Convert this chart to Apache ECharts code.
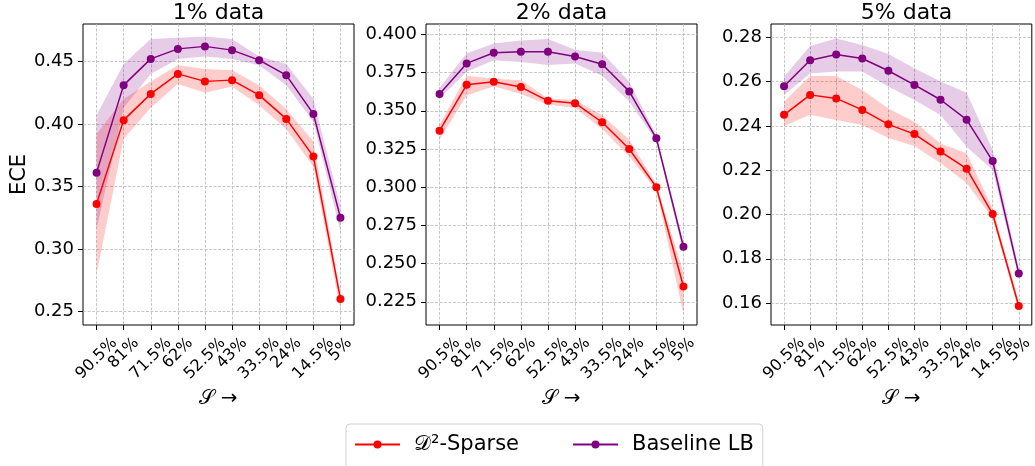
<!DOCTYPE html>
<html lang="en">
  <head>
    <meta charset="utf-8" />
    <title>ECE vs sparsity</title>
    <script src="https://cdn.jsdelivr.net/npm/echarts@6/dist/echarts.min.js"></script>
    <style>
      html, body { margin: 0; padding: 0; background: #fff; }
      #chart { width: 1035px; height: 466px; }
    </style>
  </head>
  <body>
    <div id="chart"></div>
    <script>
      // sparsity levels on the x axis
      var cats = ['90.5%', '81%', '71.5%', '62%', '52.5%', '43%', '33.5%', '24%', '14.5%', '5%']

      // 1% data
      var sparse1 = [0.336, 0.403, 0.424, 0.440, 0.434, 0.435, 0.423, 0.404, 0.374, 0.260]
      var sparse1Lo = [0.280, 0.388, 0.413, 0.432, 0.425, 0.430, 0.415, 0.396, 0.366, 0.251]
      var sparse1Hi = [0.392, 0.420, 0.434, 0.447, 0.444, 0.443, 0.431, 0.412, 0.386, 0.264]
      var base1 = [0.361, 0.431, 0.452, 0.460, 0.462, 0.459, 0.451, 0.439, 0.408, 0.325]
      var base1Lo = [0.316, 0.413, 0.440, 0.452, 0.454, 0.452, 0.447, 0.431, 0.402, 0.314]
      var base1Hi = [0.407, 0.448, 0.468, 0.469, 0.470, 0.468, 0.454, 0.448, 0.420, 0.334]

      // 2% data
      var sparse2 = [0.337, 0.367, 0.369, 0.3655, 0.3565, 0.355, 0.3425, 0.325, 0.300, 0.235]
      var sparse2Lo = [0.331, 0.360, 0.366, 0.361, 0.354, 0.352, 0.338, 0.320, 0.298, 0.217]
      var sparse2Hi = [0.341, 0.373, 0.371, 0.370, 0.358, 0.357, 0.347, 0.331, 0.302, 0.244]
      var base2 = [0.361, 0.381, 0.388, 0.3887, 0.3887, 0.3855, 0.3805, 0.3627, 0.332, 0.261]
      var base2Lo = [0.358, 0.3755, 0.383, 0.382, 0.380, 0.381, 0.373, 0.356, 0.330, 0.257]
      var base2Hi = [0.365, 0.3875, 0.394, 0.396, 0.397, 0.390, 0.388, 0.369, 0.334, 0.264]

      // 5% data
      var sparse3 = [0.245, 0.254, 0.2524, 0.2472, 0.2407, 0.2363, 0.2284, 0.2207, 0.2002, 0.1587]
      var sparse3Lo = [0.240, 0.245, 0.2427, 0.2404, 0.2345, 0.2309, 0.2231, 0.2142, 0.1982, 0.1568]
      var sparse3Hi = [0.2509, 0.2625, 0.2625, 0.2562, 0.2479, 0.2419, 0.2321, 0.2276, 0.2028, 0.1607]
      var base3 = [0.2579, 0.2696, 0.2722, 0.2704, 0.2649, 0.2585, 0.2518, 0.2428, 0.2241, 0.1734]
      var base3Lo = [0.254, 0.2637, 0.2645, 0.2645, 0.2578, 0.2517, 0.2449, 0.2306, 0.2201, 0.1711]
      var base3Hi = [0.2622, 0.2761, 0.2795, 0.2765, 0.2725, 0.266, 0.26, 0.255, 0.2291, 0.1757]

      // y tick labels
      var ticks1 = [0.25, 0.30, 0.35, 0.40, 0.45]
      var ticks2 = [0.225, 0.250, 0.275, 0.300, 0.325, 0.350, 0.375, 0.400]
      var ticks3 = [0.16, 0.18, 0.20, 0.22, 0.24, 0.26, 0.28]

      var titles = ['1% data', '2% data', '5% data']
      var sparseName = '𝒟²-Sparse'
      var baseName = 'Baseline LB'

      var panels = [
        { sp: sparse1, spLo: sparse1Lo, spHi: sparse1Hi, bs: base1, bsLo: base1Lo, bsHi: base1Hi,
          ticks: ticks1, digits: 2, min: 0.2391, max: 0.4799, left: 83 },
        { sp: sparse2, spLo: sparse2Lo, spHi: sparse2Hi, bs: base2, bsLo: base2Lo, bsHi: base2Hi,
          ticks: ticks2, digits: 3, min: 0.2098, max: 0.4068, left: 426 },
        { sp: sparse3, spLo: sparse3Lo, spHi: sparse3Hi, bs: base3, bsLo: base3Lo, bsHi: base3Hi,
          ticks: ticks3, digits: 2, min: 0.1501, max: 0.2860, left: 771 }
      ]
      var plotW = 271
      var plotTop = 24
      var plotH = 301

      var RED = '#ff0000'
      var PURPLE = '#800080'
      var FONT = '"DejaVu Sans", sans-serif'

      // matplotlib centres the rotated label box under the tick; push each label down by its own size
      var tickFont = 16
      var mctx = document.createElement('canvas').getContext('2d')
      mctx.font = tickFont + 'px "DejaVu Sans"'
      var rich = {}
      cats.forEach(function (c, i) {
        var p = 0.5 * (mctx.measureText(c).width + tickFont)
        rich['c' + i] = { padding: [p, p, 0, 0], fontSize: tickFont, color: '#000' }
      })

      function bandSeries (k, lo, hi, color) {
        return {
          type: 'custom',
          xAxisIndex: k,
          yAxisIndex: k,
          silent: true,
          z: 1,
          data: lo.map(function (v, i) { return [i, v, hi[i]] }),
          encode: { x: 0, y: [1, 2] },
          renderItem: function (params, api) {
            if (params.dataIndex !== 0) return
            var pts = []
            for (var i = 0; i < hi.length; i++) pts.push(api.coord([i, hi[i]]))
            for (var j = lo.length - 1; j >= 0; j--) pts.push(api.coord([j, lo[j]]))
            return { type: 'polygon', shape: { points: pts }, style: { fill: color } }
          }
        }
      }

      function lineSeries (k, name, vals, color) {
        return {
          type: 'line',
          name: name,
          xAxisIndex: k,
          yAxisIndex: k,
          z: 3,
          data: vals,
          symbol: 'circle',
          symbolSize: 8,
          showAllSymbol: true,
          itemStyle: { color: color },
          lineStyle: { color: color, width: 1.5 }
        }
      }

      var grid = [], xAxis = [], yAxis = [], series = [], title = []
      panels.forEach(function (p, k) {
        grid.push({ left: p.left, top: plotTop, width: plotW, height: plotH, show: true,
          borderColor: '#000', borderWidth: 1, backgroundColor: 'transparent' })
        title.push({ text: titles[k], left: p.left + plotW / 2, top: 2, textAlign: 'center', padding: 0,
          textStyle: { fontSize: 22, fontWeight: 'normal', color: '#000', fontFamily: FONT } })
        xAxis.push({
          type: 'category', gridIndex: k, data: cats, boundaryGap: true,
          name: '𝒮 →', nameLocation: 'middle', nameGap: 58,
          nameTextStyle: { fontSize: 20, color: '#000', fontFamily: FONT },
          axisLine: { show: false },
          axisTick: { show: true, length: 5, interval: 0, alignWithLabel: true, lineStyle: { color: '#000', width: 1 } },
          axisLabel: {
            interval: 0, rotate: 45, margin: 10, align: 'center', verticalAlign: 'middle',
            fontFamily: FONT, fontSize: tickFont, color: '#000', rich: rich,
            formatter: function (v, i) { return '{c' + i + '|' + v + '}' }
          },
          splitLine: { show: true, interval: 0, alignWithLabel: true,
            lineStyle: { color: '#b8b8b8', type: [3, 1.5], width: 0.8 } }
        })
        yAxis.push({
          type: 'value', gridIndex: k, min: p.min, max: p.max,
          name: k === 0 ? 'ECE' : '', nameLocation: 'middle', nameGap: 53,
          nameTextStyle: { fontSize: 21, color: '#000', fontFamily: FONT },
          axisLine: { show: false },
          axisTick: { show: true, length: 5, customValues: p.ticks, lineStyle: { color: '#000', width: 1 } },
          axisLabel: {
            customValues: p.ticks, margin: 9, fontSize: 18, color: '#000', fontFamily: FONT,
            formatter: (function (d) { return function (v) { return v.toFixed(d) } })(p.digits)
          },
          splitLine: { show: true, lineStyle: { color: '#b8b8b8', type: [3, 1.5], width: 0.8 } }
        })
        series.push(bandSeries(k, p.spLo, p.spHi, 'rgba(255,0,0,0.2)'))
        series.push(bandSeries(k, p.bsLo, p.bsHi, 'rgba(128,0,128,0.2)'))
        series.push(lineSeries(k, sparseName, p.sp, RED))
        series.push(lineSeries(k, baseName, p.bs, PURPLE))
      })

      var chart = echarts.init(document.getElementById('chart'), null, { renderer: 'canvas' })
      chart.setOption({
        animation: false,
        backgroundColor: '#fff',
        textStyle: { fontFamily: FONT },
        title: title,
        grid: grid,
        xAxis: xAxis,
        yAxis: yAxis,
        legend: {
          data: [sparseName, baseName],
          left: 346,
          top: 424,
          padding: [10, 9, 24, 8],
          itemWidth: 45,
          itemHeight: 10,
          itemGap: 53,
          borderColor: '#d0d0d0',
          borderWidth: 1,
          borderRadius: 4,
          textStyle: { fontSize: 21, color: '#000', fontFamily: FONT, padding: [0, 0, 0, 9] }
        },
        series: series
      })
    </script>
  </body>
</html>
